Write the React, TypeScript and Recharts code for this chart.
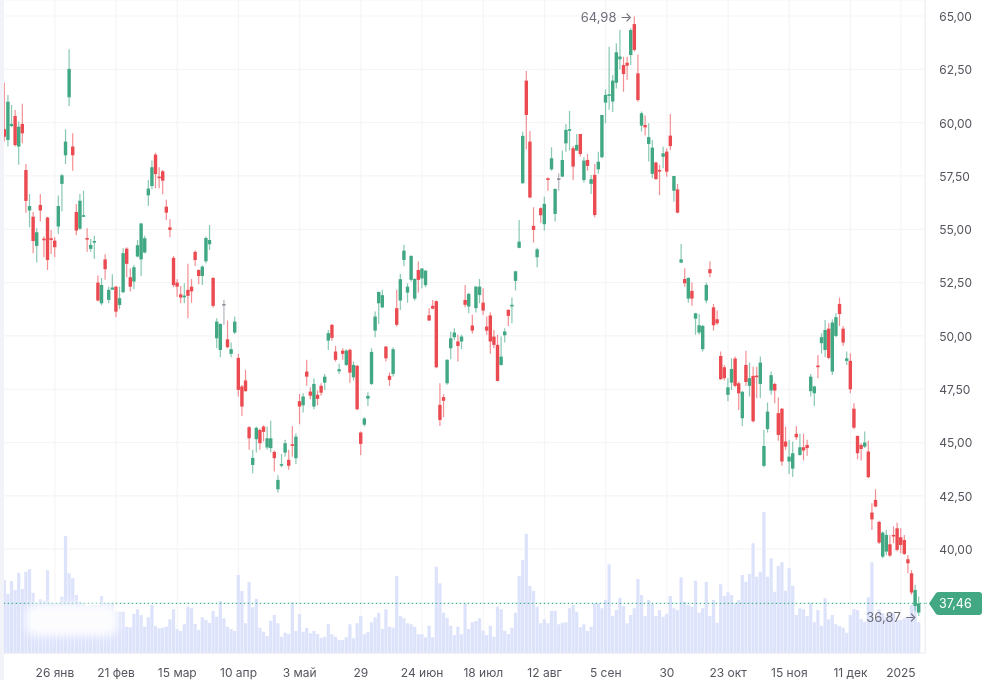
import React from 'react';
import { ComposedChart, Bar, XAxis, YAxis, CartesianGrid, ReferenceLine, ReferenceDot } from 'recharts';

type C = [number, number, number, number]; // open, high, low, close

const candlesJan: C[] = [
  [59.69,61.88,59.11,59.34],[59.19,61.30,58.88,60.98],[59.84,60.83,59.78,59.94],[60.31,60.59,58.88,58.95],
  [58.88,60.05,58.02,59.81],[59.94,60.88,59.03,59.5],[57.78,58.06,55.78,56.33],[55.88,56.66,55.09,56.09],
  [55.59,55.81,53.88,54.45],[54.22,55.05,53.44,54.86],[56.14,56.66,55.36,55.88],[54.56,54.66,53.69,54.5],
  [55.55,55.59,53.09,53.56],[54.58,54.97,53.84,54.5],[54.47,54.63,53.69,54.16],[55.13,56.58,54.78,56.09],
  [57.13,57.59,55.83,57.53],[58.47,59.69,58.06,59.11],[61.19,63.44,60.78,62.52],[58.88,59.5,57.75,58.47],
];
const candlesFeb: C[] = [
  [55.81,56.19,54.72,54.94],[55.03,56.66,54.97,56.34],[55.6,56.81,55.59,55.66],[54.59,55.05,53.95,54.53],
  [54.08,54.55,53.95,54.27],[54.39,54.7,53.61,54.45],[52.5,52.83,51.61,51.66],[51.53,52.72,51.44,52.39],
  [53.59,53.83,52.63,53.13],[51.69,52.31,51.53,52.16],[52.17,52.89,52.16,52.27],[52.31,52.34,50.88,51.14],
  [51.45,52.31,51.25,51.77],[52.05,54.11,52.0,53.88],[54.09,54.16,52.75,53.38],[52.75,53.17,52.08,52.31],
  [52.55,53.33,52.19,53.22],[53.72,54.5,53.69,54.25],[53.59,55.31,52.81,55.27],[53.91,54.7,53.88,54.58],
];
const candlesMar: C[] = [
  [56.59,57.31,56.09,56.91],[57.03,58.22,56.88,57.91],[58.5,58.59,56.92,57.59],[57.47,57.91,56.92,57.41],
  [57.72,57.78,56.64,57.28],[56.06,56.38,55.44,55.78],[55.09,55.47,54.63,54.97],[53.66,53.75,52.28,52.38],
  [52.5,52.66,51.84,52.31],[51.95,52.34,51.53,51.8],[51.81,52.47,51.53,51.89],[52.16,53.38,50.83,51.88],
  [52.31,52.67,51.56,52.09],[53.94,54.0,53.28,53.56],[53.09,53.13,52.42,52.81],[52.81,53.31,52.39,53.25],
  [53.5,54.66,53.41,54.59],[54.3,55.2,54.03,54.5],[52.72,52.75,51.33,51.41],
];
const candlesApr: C[] = [
  [49.89,50.83,49.42,50.67],[49.34,50.6,49.0,50.56],[51.5,51.69,50.52,51.5],[49.84,50.72,49.42,49.47],
  [49.16,49.69,49.0,49.38],[50.16,50.91,50.09,50.67],[48.97,49.16,47.16,47.47],[47.63,47.7,46.25,46.69],
  [47.91,48.41,47.39,47.41],[45.72,45.78,44.66,45.2],[43.95,44.66,43.56,44.28],[45.16,45.75,44.53,45.69],
  [45.59,45.66,44.66,44.97],[45.75,45.81,45.05,45.5],[44.77,45.75,44.66,45.2],[44.74,46.02,44.53,45.2],
  [44.56,44.63,43.64,44.27],[42.81,43.47,42.66,43.25],[43.92,44.47,43.84,43.99],[44.53,45.13,44.34,44.97],
];
const candlesMay: C[] = [
  [44.19,44.66,43.72,43.91],[44.92,45.78,44.34,44.86],[44.27,45.44,43.99,45.28],[46.94,47.28,45.86,46.69],
  [46.75,47.31,46.41,47.16],[48.33,48.88,47.66,48.09],[47.39,47.59,47.03,47.2],[46.69,48.02,46.56,47.75],
  [47.24,47.44,46.75,47.05],[47.66,47.78,47.19,47.34],[47.81,48.22,47.47,48.09],[49.78,50.28,49.34,50.13],
  [50.52,50.56,49.77,49.91],[49.27,49.53,48.8,48.88],[48.34,48.69,48.22,48.44],[49.31,49.42,48.88,49.16],
  [48.64,49.38,48.59,49.31],[49.35,49.41,47.81,48.28],[48.06,48.8,47.91,48.64],[48.6,48.64,46.53,46.56],
];
const candlesJun: C[] = [
  [45.47,45.52,44.41,44.94],[45.84,46.19,45.75,46.13],[47.06,47.36,46.72,47.19],[47.75,49.42,47.7,49.25],
  [50.25,51.14,49.94,50.91],[51.53,52.08,50.56,52.06],[51.34,52.16,51.3,51.91],[49.5,49.53,48.8,48.95],
  [48.13,48.28,47.66,47.94],[48.22,49.47,48.1,49.38],[51.3,52.16,50.44,50.52],[51.66,52.91,51.22,52.66],
  [53.56,54.27,53.28,54.0],[52.03,52.47,51.56,52.31],[52.63,53.78,52.55,53.75],[51.75,52.7,51.66,52.67],
  [53.09,53.49,52.03,52.63],[52.7,53.17,52.24,53.16],[52.38,53.09,52.28,53.06],[50.97,51.3,50.72,50.72],
];
const candlesJul: C[] = [
  [51.41,51.69,51.25,51.28],[51.63,51.66,48.49,48.53],[46.77,47.78,45.78,46.06],[47.13,47.27,46.19,46.96],
  [47.78,48.91,47.71,48.88],[49.42,50.21,48.91,49.89],[49.94,50.36,49.81,50.16],[49.74,50.05,48.8,49.53],
  [49.74,50.05,49.38,49.97],[51.69,52.39,51.35,51.46],[51.38,52.03,51.06,51.97],[50.49,50.99,50.1,50.25],
  [51.3,52.35,51.1,52.31],[51.92,52.67,51.53,52.31],[51.56,52.24,50.99,51.19],[50.44,50.91,50.05,50.25],
  [50.96,51.1,49.16,49.74],[49.97,50.28,49.42,49.58],[49.58,50.05,47.86,47.89],[48.64,49.97,48.6,49.03],
];
const candlesAug: C[] = [
  [50.03,50.36,49.69,50.21],[51.22,51.25,50.47,50.94],[51.38,51.8,50.6,51.46],[52.58,53.06,52.13,53.03],
  [54.13,55.44,54.11,54.42],[57.16,59.58,57.13,59.38],[61.97,62.42,58.75,60.36],[59.11,59.61,56.46,56.49],
  [55.16,56.03,54.38,54.97],[53.69,54.14,53.22,54.06],[55.99,56.03,55.31,55.66],[55.24,56.53,54.94,56.19],
  [57.39,57.44,56.81,57.34],[57.81,58.85,57.75,58.33],[55.72,56.92,55.36,56.89],[57.39,57.63,56.81,57.39],
  [57.47,58.69,57.44,58.25],[59.03,59.94,58.64,59.66],[59.63,60.55,58.69,59.69],[58.8,58.91,57.31,57.94],
];
const candlesSep: C[] = [
  [58.69,59.47,58.69,58.96],[59.47,59.47,58.41,58.53],[57.31,58.38,57.19,58.22],[58.25,58.53,57.75,57.97],
  [57.13,57.55,56.66,57.35],[57.55,58.06,55.56,55.67],[57.81,58.64,57.6,58.17],[58.38,60.36,58.33,60.36],
  [60.94,61.55,59.97,61.3],[61.27,63.56,60.6,61.33],[60.99,62.23,60.5,61.97],[61.87,63.72,61.6,63.3],
  [62.97,64.34,62.5,63.1],[62.7,63.09,61.45,62.28],[62.81,63.09,62.0,62.67],[63.17,64.42,62.7,64.34],
  [64.62,64.98,63.33,63.41],[62.31,63.2,60.98,61.06],[59.86,60.52,59.58,60.44],[59.89,60.33,59.4,59.78],
];
const candlesOct: C[] = [
  [59.0,59.97,58.18,59.32],[57.6,59.19,57.39,58.83],[58.13,58.17,57.32,57.35],[57.78,58.02,56.6,57.72],
  [58.4,58.87,57.86,58.56],[58.64,58.79,57.46,57.7],[59.39,60.4,58.72,58.9],[56.81,57.5,56.29,57.5],
  [56.87,57.12,55.75,55.78],[53.44,54.31,53.41,53.59],[52.67,53.17,52.31,52.47],[51.75,52.75,51.56,52.72],
  [52.11,52.5,51.41,51.75],[50.81,51.09,50.05,51.06],[50.16,51.03,50.05,50.5],[49.38,50.52,49.27,50.47],
  [51.66,52.5,51.53,52.39],[53.13,53.49,52.75,52.94],[51.34,51.5,50.25,50.5],[50.78,51.19,50.52,50.59],
];
const candlesNov: C[] = [
  [49.06,49.27,47.94,47.97],[48.53,48.64,47.91,48.02],[47.24,48.02,46.94,47.59],[47.81,48.95,47.47,48.45],
  [48.94,49.03,47.59,47.66],[47.78,47.86,46.53,47.31],[46.14,47.42,45.78,47.38],[48.64,49.31,47.66,47.84],
  [47.66,48.75,47.16,48.02],[48.13,48.56,45.94,46.0],[48.14,48.56,47.08,48.08],[47.75,49.03,47.08,48.75],
  [43.91,45.59,43.84,44.84],[45.63,46.88,45.47,46.45],[47.44,48.33,47.24,48.16],[47.75,47.81,46.84,47.44],
  [46.38,47.11,45.09,45.36],[46.59,46.61,43.91,44.11],[45.05,45.75,44.66,44.81],[44.11,45.13,43.53,44.34],
];
const candlesDec: C[] = [
  [43.78,45.05,43.38,44.5],[45.41,45.78,45.13,45.25],[44.42,45.41,44.38,44.78],[44.78,45.41,44.16,44.63],
  [44.89,45.13,44.38,44.74],[47.41,48.22,47.16,48.09],[47.31,47.66,46.72,47.63],[48.61,49.11,48.02,48.55],
  [49.66,50.13,49.16,49.94],[49.34,50.75,49.0,50.28],[50.34,50.59,48.91,48.97],[48.33,50.78,48.17,50.63],
  [50.0,51.06,49.94,50.88],[51.5,51.8,50.47,51.03],[50.34,50.47,49.53,49.69],[48.83,49.27,48.64,48.95],
  [48.83,49.19,47.31,47.5],[46.59,46.84,45.63,45.7],[45.31,45.33,44.22,44.5],[44.89,44.97,44.16,44.7],
];
const candlesEnd: C[] = [
  [44.81,45.52,44.74,45.0],[44.58,45.09,43.33,43.38],[41.72,42.15,40.9,41.4],[42.31,42.81,41.97,42.0],
  [41.28,41.33,40.25,40.31],[39.65,40.83,39.58,40.78],[39.89,40.9,39.73,40.67],[40.23,40.67,39.65,39.7],
  [40.67,41.06,40.28,40.62],[40.98,41.25,39.89,39.97],[40.56,40.98,39.81,40.2],[40.43,40.67,39.73,39.78],
  [39.53,39.73,38.87,39.34],[38.87,39.03,37.86,37.97],[37.34,38.33,37.12,38.09],[37.03,37.78,36.87,37.46],
];

const volumesA = [220,178,217,190,242,193,245,252,182,150,162,158,249,152,150,150,170,352,240,225,175,155,150,142,145,145,145,172,150,150,150,125,125,125,80,78,118,132,115,80,108,145,82,75,77,80,102,132,72,67,87,140,135,88,70,108,100,92,127,110,157,105,80,73,67];
const volumesB = [235,187,90,214,138,164,77,65,52,98,115,90,50,62,58,153,67,118,65,77,60,67,58,47,50,87,57,50,40,40,48,87,45,90,112,57,65,93,108,122,73,132,80,77,232,112,105,90,87,80,57,57,48,83,48,260,210,122,107,83,55,80,57,150,73,93,97,105,68,55,83,50];
const volumesC = [140,132,68,58,77,122,232,280,358,203,187,140,90,102,90,128,128,87,92,93,135,145,125,78,87,67,80,150,150,135,160,267,112,130,167,142,90,115,135,223,175,112,160,148,112,130];
const volumesD = [110,118,172,135,130,228,155,145,140,218,122,135,214,112,160,92,207,172,183,175,150,160,235,215,238,330,230,245,424,230,285,185,262,273,188,255,203,115,135,132,112,152,93,130,83,165,102,115,87,82,77,62,115,133,130,103,95,168,273,100,132,120,110,120,120,100,100,105,105,145,175,93];

const tickBars = [14,31,48,65,82,99,116,133,150,167,184,201,218,235,249];
const tickLabels = ['26 янв','21 фев','15 мар','10 апр','3 май','29','24 июн','18 июл','12 авг','5 сен','30','23 окт','15 ноя','11 дек','2025'];
const priceTicks = [40,42.5,45,47.5,50,52.5,55,57.5,60,62.5,65];

const lastPrice = 37.46;
const maxPrice = 64.98;
const minPrice = 36.87;

const candles: C[] = [...candlesJan,...candlesFeb,...candlesMar,...candlesApr,...candlesMay,...candlesJun,...candlesJul,...candlesAug,...candlesSep,...candlesOct,...candlesNov,...candlesDec,...candlesEnd];
const volumes = [...volumesA,...volumesB,...volumesC,...volumesD];
const rows = candles.map(([open, high, low, close], i) => ({
  i, open, high, low, close, range: [low, high], volume: volumes[i] ?? 0,
}));
const maxIndex = candles.length - 1;

const GREEN = '#41a883';
const RED = '#ea4a50';
const GREY = '#8b8b97';
const comma = (v: number) => v.toFixed(2).replace('.', ',');
const xDomain: [number, number] = [-1.25, 255.75];

const Candle = (p: any) => {
  const { x, y, width, height, payload } = p;
  const { open, high, low, close } = payload;
  const k = height / (high - low);
  const cx = x + width / 2;
  const color = close > open ? GREEN : close < open ? RED : GREY;
  const top = y + (high - Math.max(open, close)) * k;
  const h = Math.max(Math.abs(open - close) * k, 1.6);
  return (
    <g>
      <line x1={cx} x2={cx} y1={y} y2={y + height} stroke={color} strokeWidth={1.2} strokeOpacity={0.62} />
      <rect x={cx - 1.7} y={top} width={3.4} height={h} fill={color} />
    </g>
  );
};

const PriceTag = (p: any) => {
  const { viewBox } = p;
  const y = viewBox.y;
  const x = 929;
  return (
    <g>
      <line x1={viewBox.x + viewBox.width} x2={x} y1={y} y2={y} stroke="#3fb58b" strokeDasharray="1.5 2.5" strokeWidth={1.2} />
      <path d={`M${x} ${y} L${x + 7} ${y - 10.5} Q${x + 8} ${y - 11.5} ${x + 10} ${y - 11.5} L${x + 50} ${y - 11.5} Q${x + 53} ${y - 11.5} ${x + 53} ${y - 8.5} L${x + 53} ${y + 8.5} Q${x + 53} ${y + 11.5} ${x + 50} ${y + 11.5} L${x + 10} ${y + 11.5} Q${x + 8} ${y + 11.5} ${x + 7} ${y + 10.5} Z`} fill={GREEN} />
      <text x={x + 10} y={y + 4.5} fill="#fff" fontSize={12.5} fontFamily="Inter">{comma(lastPrice)}</text>
    </g>
  );
};

const Extreme = (value: number) => (p: any) => {
  const { viewBox } = p;
  const x = viewBox.x + viewBox.width / 2;
  const y = viewBox.y + viewBox.height / 2;
  return (
    <text x={x - 2} y={y + 6} textAnchor="end" fill="#6f6f7b" fontSize={13} fontFamily="Inter">
      {comma(value)} →
    </text>
  );
};

export default function App() {
  return (
    <div style={{ position: 'absolute', left: 0, top: 0, width: 987, height: 680, background: '#fff', overflow: 'hidden', filter: 'blur(0.35px)' }}>
      <ComposedChart
        width={987}
        height={680}
        data={rows}
        margin={{ top: 0, right: 0, bottom: 0, left: 0 }}
        barCategoryGap={0}
        barGap={0}
      >
        <CartesianGrid stroke="#f5f5f8" strokeWidth={1.2} />
        <XAxis
          dataKey="i"
          type="number"
          domain={xDomain}
          height={26.7}
          ticks={tickBars}
          interval={0}
          allowDataOverflow
          tickFormatter={(v: number) => tickLabels[tickBars.indexOf(v)]}
          tick={{ fill: '#55555f', fontSize: 12, fontFamily: 'Inter' }}
          tickLine={false}
          axisLine={{ stroke: '#eeeef3' }}
          tickMargin={9}
        />
        <XAxis xAxisId="vol" dataKey="i" type="number" domain={xDomain} height={26.7} hide allowDataOverflow />
        <YAxis
          orientation="right"
          width={61.8}
          domain={[35.12, 65.75]}
          allowDataOverflow
          ticks={priceTicks}
          interval={0}
          tickFormatter={comma}
          tick={{ fill: '#55555f', fontSize: 12, fontFamily: 'Inter', dy: 0.6 }}
          tickLine={false}
          axisLine={{ stroke: '#eeeef3' }}
          tickMargin={8}
        />
        <YAxis yAxisId="vol" hide domain={[0, 1960]} allowDataOverflow />
        <Bar xAxisId="vol" yAxisId="vol" dataKey="volume" fill="#dee3fc" barSize={3.6} isAnimationActive={false} />
        <ReferenceLine y={lastPrice} stroke="#3fb58b" strokeWidth={1.2} strokeDasharray="1.5 2.5" label={<PriceTag />} />
        <Bar dataKey="range" barSize={3.6} shape={<Candle />} isAnimationActive={false} />
        <ReferenceDot x={maxIndex - 79} y={maxPrice} r={0} label={Extreme(maxPrice)} />
        <ReferenceDot x={maxIndex} y={minPrice} r={0} label={Extreme(minPrice)} />
      </ComposedChart>
      <div style={{ position: 'absolute', left: 0, top: 0, width: 3.7, height: 680, background: '#f2f2f9' }} />
      <div style={{ position: 'absolute', left: 26, top: 604, width: 92, height: 32, background: '#fff', opacity: 0.92, filter: 'blur(4px)', borderRadius: 10 }} />
    </div>
  );
}
